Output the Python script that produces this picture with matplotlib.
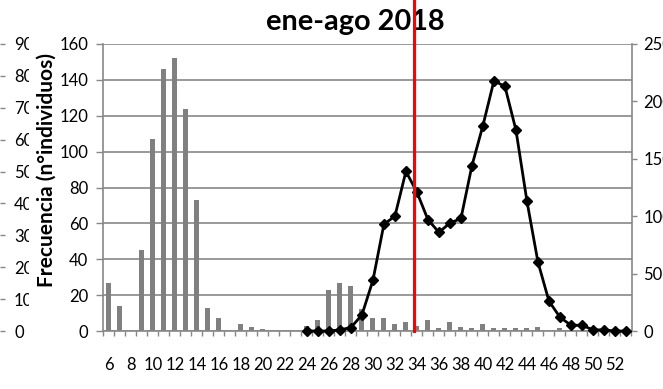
import matplotlib
matplotlib.use("Agg")
import matplotlib.pyplot as plt
from matplotlib.lines import Line2D
from matplotlib.transforms import Bbox, TransformedBbox, blended_transform_factory
import numpy as np

# Weekly catches (bars, left axis) and second series (line, right axis)
weeks = list(range(6, 54))
freq = [27, 14, 0, 45, 107, 146, 152, 124, 73, 13, 7, 0, 4, 2, 1, 0, 0, 0,
        3, 6, 23, 27, 25, 12, 7.5, 7.5, 4, 5, 3, 6, 1.5, 5, 2, 1.5, 4, 1.5,
        1.5, 1.5, 1.5, 2, 0, 1.5, 0, 0, 0, 0, 0, 0]
line_weeks = list(range(24, 54))
line_vals = [0, 0, 0, 1, 3, 14, 44, 93, 100, 139, 121, 97, 86, 94, 98, 144,
             179, 218, 213, 175, 113, 60, 26, 12, 5, 5, 1, 1, 0, 0]

left_ticks = list(range(0, 161, 20))
right_ticks = list(range(0, 251, 50))
extra_ticks = list(range(0, 91, 10))
week_labels = list(range(6, 53, 2))
title = "ene-ago 2018"
ylabel = "Frecuencia (n°individuos)"
cut_week = 33.7

GRAY = "#878787"
BAR = "#808080"
FS = 12

plt.rcParams['font.family'] = ['Lato', 'DejaVu Sans']

W, H = 663, 389
fig = plt.figure(figsize=(W / 100, H / 100), dpi=100)

L, R, T, B = 103.3, 631.5, 44, 331
ax = fig.add_axes([L / W, 1 - B / H, (R - L) / W, (B - T) / H])

ax.bar(weeks, freq, width=0.45, color=BAR, zorder=2)
ax.set_xlim(5.5, 53.5)
ax.set_ylim(0, 160)
ax.set_yticks(left_ticks)
ax.set_yticklabels([str(v) for v in left_ticks])
ax.grid(axis='y', color=GRAY, lw=1.2)
ax.set_axisbelow(True)

ax.set_xticks(np.arange(5.5, 54, 1))
ax.tick_params(axis='x', which='major', length=3.6, width=1, color=GRAY,
               labelbottom=False)
ax.set_xticks(week_labels, minor=True)
ax.set_xticklabels([str(w) for w in week_labels], minor=True)
ax.tick_params(axis='x', which='minor', length=0, pad=18.5, labelsize=FS)
ax.tick_params(axis='y', direction='out', length=4.8, width=1, color=GRAY,
               pad=6, labelsize=FS)

for s in ('top', 'right'):
    ax.spines[s].set_visible(False)
for s in ('left', 'bottom'):
    ax.spines[s].set_color(GRAY)
    ax.spines[s].set_linewidth(1.2)

ax.set_ylabel(ylabel, fontsize=15, fontweight='bold')
ax.yaxis.set_label_coords(-0.088, 0.561)

ax2 = ax.twinx()
ax2.plot(line_weeks, line_vals, color='black', lw=2, marker='D', ms=5.3,
         clip_on=False, zorder=3)
ax2.set_ylim(0, 250)
ax2.set_yticks(right_ticks)
ax2.set_yticklabels([str(v) for v in right_ticks])
ax2.tick_params(axis='y', direction='out', length=3.6, width=1, color=GRAY,
                pad=5, labelsize=FS)
for s in ('top', 'left', 'bottom'):
    ax2.spines[s].set_visible(False)
ax2.spines['right'].set_color(GRAY)
ax2.spines['right'].set_linewidth(1.2)

# Outer scale at the far left edge
ax3 = fig.add_axes([-0.02, 1 - B / H, 0.02, (B - T) / H])
ax3.set_ylim(0, 90)
ax3.set_yticks(extra_ticks)
ax3.set_yticklabels([str(v) for v in extra_ticks])
ax3.yaxis.tick_right()
ax3.tick_params(axis='y', direction='out', length=3.6, width=1, color=GRAY,
                pad=6.5, labelsize=FS)
ax3.xaxis.set_visible(False)
ax3.patch.set_visible(False)
for s in ax3.spines.values():
    s.set_visible(False)
clipbox = TransformedBbox(Bbox([[0, 0], [29 / W, 1]]), fig.transFigure)
for tick in ax3.yaxis.get_major_ticks():
    for lab in (tick.label1, tick.label2):
        lab.set_clip_box(clipbox)
        lab.set_clip_on(True)

fig.text(355 / W, 1 - 30 / H, title, ha='center', va='baseline',
         fontsize=20.8, fontweight='bold')

fig.add_artist(Line2D([cut_week, cut_week], [1 - B / H, 1],
                      transform=blended_transform_factory(ax.transData, fig.transFigure),
                      color='red', lw=2.3, zorder=10))

fig.savefig("out.png", dpi=100)
